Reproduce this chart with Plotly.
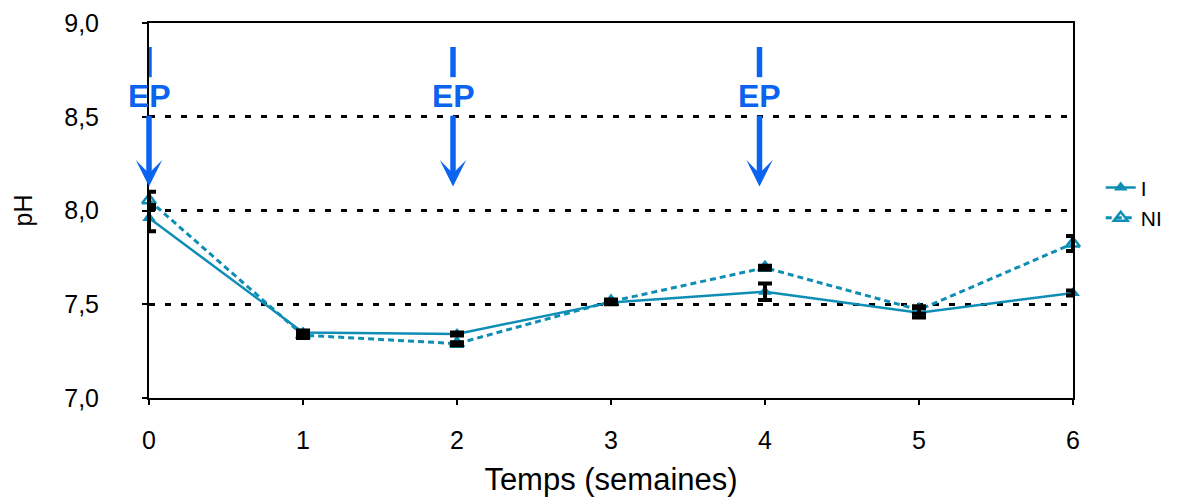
import plotly.graph_objects as go

# ---- data ----
weeks = [0, 1, 2, 3, 4, 5, 6]
ph_I = [7.96, 7.35, 7.342, 7.51, 7.567, 7.455, 7.56]
err_I = [0.07, 0.01, 0.008, 0.01, 0.044, 0.025, 0.013]
ph_NI = [8.055, 7.335, 7.29, 7.515, 7.695, 7.47, 7.824]
err_NI = [0.045, 0.015, 0.008, 0.01, 0.01, 0.02, 0.04]
series_names = ["I", "NI"]
y_ticks = [7.0, 7.5, 8.0, 8.5, 9.0]
y_ticklabels = ["7,0", "7,5", "8,0", "8,5", "9,0"]
x_ticks = [0, 1, 2, 3, 4, 5, 6]
ep_weeks = [0, 2, 4]
ep_label = "EP"

TEAL = "#0E8DB5"
BLUE = "#0A64F0"
FONT = "Arial, Liberation Sans, Helvetica, sans-serif"

fig = go.Figure()

fig.add_trace(go.Scatter(
    x=weeks, y=ph_I, name=series_names[0], mode="lines+markers",
    line=dict(color=TEAL, width=2.5),
    marker=dict(symbol="triangle-up", size=12, color=TEAL),
    cliponaxis=False,
))
fig.add_trace(go.Scatter(
    x=weeks, y=ph_NI, name=series_names[1], mode="lines+markers",
    line=dict(color=TEAL, width=3, dash="6px,4px"),
    marker=dict(symbol="triangle-up-open", size=12, color=TEAL, line=dict(width=2.5, color=TEAL)),
    cliponaxis=False,
))
# error bars drawn on top
for vals, errs in [(ph_I, err_I), (ph_NI, err_NI)]:
    fig.add_trace(go.Scatter(
        x=weeks, y=vals, mode="markers", showlegend=False, hoverinfo="skip",
        marker=dict(size=1, opacity=0),
        error_y=dict(type="data", array=errs, visible=True, color="black", thickness=4, width=7),
        cliponaxis=False,
    ))

# EP arrows
shifts = [0, -4, -5.5]
for wk, sh in zip(ep_weeks, shifts):
    fig.add_annotation(
        x=wk, y=8.128, ax=wk, ay=8.61, xref="x", yref="y", axref="x", ayref="y",
        xshift=sh, text="<b>%s</b>" % ep_label, showarrow=True,
        arrowhead=3, arrowwidth=5.5, arrowsize=0.8, arrowcolor=BLUE, standoff=0,
        font=dict(family=FONT, size=32, color=BLUE),
    )
    fig.add_shape(
        type="line", xref="x", yref="y", xsizemode="pixel", xanchor=wk,
        x0=sh, x1=sh, y0=8.711, y1=8.872,
        line=dict(color=BLUE, width=5.5),
    )

fig.update_layout(
    width=1177, height=497,
    margin=dict(l=149, r=104, t=23, b=99, autoexpand=False),
    paper_bgcolor="white", plot_bgcolor="white",
    font=dict(family=FONT, size=25, color="black"),
    showlegend=True,
    legend=dict(x=1.03, y=0.615, xanchor="left", yanchor="top",
                font=dict(size=21, color="black"), bgcolor="rgba(0,0,0,0)",
                tracegroupgap=0, itemwidth=30),
)
fig.update_xaxes(
    range=[0, 6], tickvals=x_ticks, showline=True, linecolor="black", linewidth=2,
    mirror=True, ticks="outside", ticklen=5, tickwidth=2, tickcolor="black",
    showgrid=False, zeroline=False, ticklabelstandoff=14, automargin=False,
    tickfont=dict(size=25),
    title=dict(text="Temps (semaines)", font=dict(size=31), standoff=16),
)
fig.update_yaxes(
    range=[7, 9], tickvals=y_ticks, ticktext=y_ticklabels, showline=True,
    linecolor="black", linewidth=2, mirror=True, ticks="outside", ticklen=5,
    tickwidth=2, tickcolor="black", showgrid=True, gridcolor="black", gridwidth=2.5,
    griddash="6px,10px", zeroline=False, ticklabelstandoff=38, automargin=False,
    tickfont=dict(size=25),
    title=dict(text="pH", font=dict(size=25), standoff=24),
)

fig.write_html(
    "out.html",
    config={"displayModeBar": False},
    post_script="document.body.style.margin='0';document.body.style.padding='0';",
)
